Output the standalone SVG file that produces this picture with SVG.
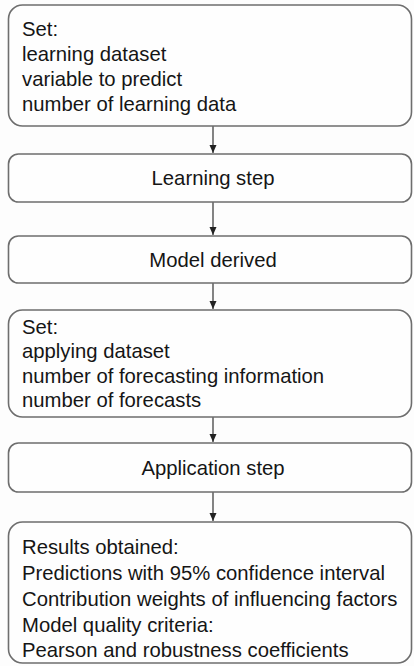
<svg xmlns="http://www.w3.org/2000/svg" width="414" height="666" viewBox="0 0 414 666">
<defs>
<marker id="ah" viewBox="0 0 8 8" refX="8" refY="4" markerWidth="8" markerHeight="8" markerUnits="userSpaceOnUse" orient="auto">
<path d="M0,0.5 L8,4 L0,7.5 Z" fill="#222"/>
</marker>
<style>
.box{fill:#fefefe;stroke:#6e6e6e;stroke-width:1.6}
.t{font-family:"Liberation Sans",Arial,sans-serif;font-size:20.3px;fill:#151515}
.c{text-anchor:middle}
.ln{stroke:#333;stroke-width:1.2;fill:none;marker-end:url(#ah)}
</style>
</defs>
<rect width="414" height="666" fill="#fdfdfd"/>
<g id="connectors">
<line class="ln" x1="213" y1="126" x2="213" y2="153"/>
<line class="ln" x1="213" y1="202" x2="213" y2="235"/>
<line class="ln" x1="213" y1="283" x2="213" y2="309"/>
<line class="ln" x1="213" y1="417" x2="213" y2="442"/>
<line class="ln" x1="213" y1="492" x2="213" y2="521"/>
</g>
<g id="set-learning">
<rect class="box" x="8.5" y="5" width="403" height="121" rx="14"/>
<text class="t" x="22" y="36">Set:</text>
<text class="t" x="22" y="61">learning dataset</text>
<text class="t" x="22" y="86">variable to predict</text>
<text class="t" x="22" y="111">number of learning data</text>
</g>
<g id="learning-step">
<rect class="box" x="8.5" y="154" width="403" height="48" rx="10"/>
<text class="t c" x="213" y="185">Learning step</text>
</g>
<g id="model-derived">
<rect class="box" x="8.5" y="236" width="403" height="47" rx="10"/>
<text class="t c" x="213" y="267">Model derived</text>
</g>
<g id="set-applying">
<rect class="box" x="8.5" y="310" width="403" height="107" rx="14"/>
<text class="t" x="22" y="334">Set:</text>
<text class="t" x="22" y="358">applying dataset</text>
<text class="t" x="22" y="383">number of forecasting information</text>
<text class="t" x="22" y="407">number of forecasts</text>
</g>
<g id="application-step">
<rect class="box" x="8.5" y="443" width="403" height="49" rx="10"/>
<text class="t c" x="213" y="475">Application step</text>
</g>
<g id="results">
<rect class="box" x="8.5" y="522" width="403" height="141" rx="14"/>
<text class="t" x="22" y="554">Results obtained:</text>
<text class="t" x="22" y="580">Predictions with 95% confidence interval</text>
<text class="t" x="22" y="606">Contribution weights of influencing factors</text>
<text class="t" x="22" y="632">Model quality criteria:</text>
<text class="t" x="22" y="657">Pearson and robustness coefficients</text>
</g>
</svg>
